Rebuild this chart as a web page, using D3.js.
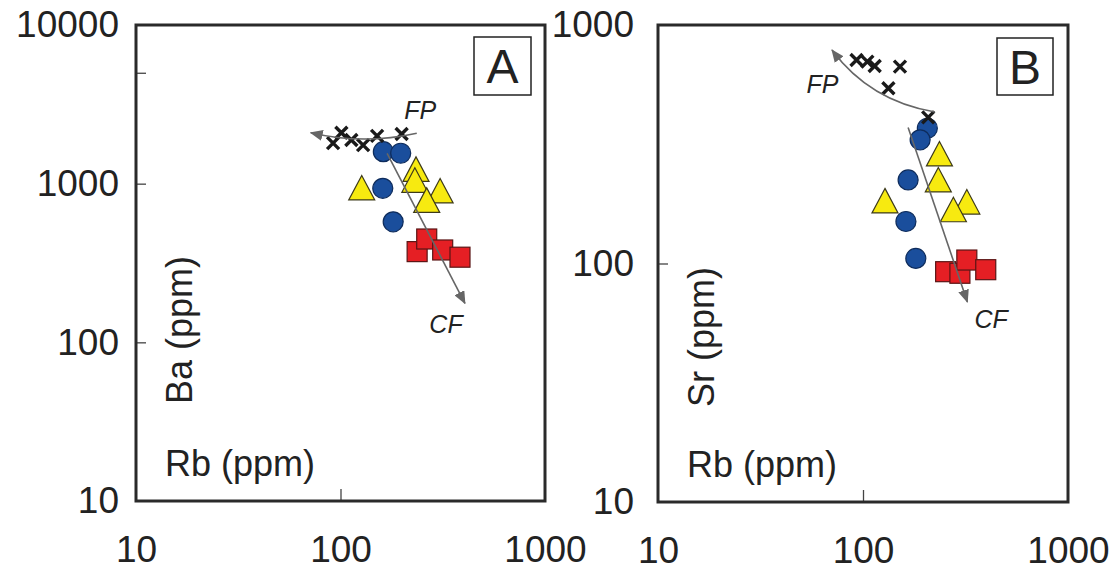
<!DOCTYPE html>
<html>
<head>
<meta charset="utf-8">
<script src="https://cdn.jsdelivr.net/npm/d3@7"></script>
<style>
  html, body { margin: 0; padding: 0; background: #fff; }
  svg { display: block; }
  text { font-family: "Liberation Sans", Arial, Helvetica, sans-serif; fill: #222; }
</style>
</head>
<body>
<svg id="chart" width="1115" height="570"></svg>
<script>
// ---- tick values ----
const xTicks = [10, 100, 1000];
const yTicksA = [10, 100, 1000, 10000];
const yTicksB = [10, 100, 1000];

// ---- panel A: Ba vs Rb ----
const crossRbA  = [92, 101, 113, 129, 151, 199];
const crossBaA  = [1800, 2095, 1885, 1750, 2000, 2055];
const circleRbA = [162, 197, 161, 181];
const circleBaA = [1590, 1555, 935, 575];
const triRbA    = [234, 231, 127, 307, 264];
const triBaA    = [1230, 1050, 940, 900, 785];
const sqRbA     = [237, 264, 316, 384];
const sqBaA     = [373, 448, 382, 344];

// ---- panel B: Sr vs Rb ----
const crossRbB  = [93, 105, 114, 151.5, 133, 208];
const crossSrB  = [713, 702, 673, 669, 543, 410];
const circleRbB = [206, 190, 166, 162, 181];
const circleSrB = [369, 330, 224, 150, 105];
const triRbB    = [236, 233, 128, 321, 276];
const triSrB    = [288, 224, 183, 181, 168];
const sqRbB     = [253, 297, 321, 397];
const sqSrB     = [92.4, 91, 103.4, 94.2];

// ---- trend arrows (start, [control], tip) in data units ----
const fpArrowA = [[236, 2080], [129, 1750], [71.5, 2095]];
const cfArrowA = [[169, 1554], [406, 176]];
const fpArrowB = [[224.5, 432], [108, 480], [70.6, 786]];
const cfArrowB = [[166, 372], [323, 69]];

// ---- trend labels (anchor in data units) ----
const fpLabelA = [205, 2540];
const cfLabelA = [272, 114.5];
const fpLabelB = [53, 520];
const cfLabelB = [350, 53.8];

const svg = d3.select("#chart");
const zip = (a, b) => a.map((v, i) => [v, b[i]]);

const panels = [
  {
    id: "A", left: 136, right: 545, top: 25, bottom: 501,
    yDomain: [10, 10000], yTicks: yTicksA, yInner: [1000, 100, 5000],
    yTitle: "Ba (ppm)", yTitleMid: 330, labelPad: 17,
    crosses: zip(crossRbA, crossBaA), circles: zip(circleRbA, circleBaA),
    tris: zip(triRbA, triBaA), squares: zip(sqRbA, sqBaA),
    fp: fpArrowA, cf: cfArrowA, fpLabel: fpLabelA, cfLabel: cfLabelA,
    box: [474, 37, 57, 58]
  },
  {
    id: "B", left: 658, right: 1068, top: 25, bottom: 502,
    yDomain: [10, 1000], yTicks: yTicksB, yInner: [100],
    yTitle: "Sr (ppm)", yTitleMid: 337, labelPad: 24,
    crosses: zip(crossRbB, crossSrB), circles: zip(circleRbB, circleSrB),
    tris: zip(triRbB, triSrB), squares: zip(sqRbB, sqSrB),
    fp: fpArrowB, cf: cfArrowB, fpLabel: fpLabelB, cfLabel: cfLabelB,
    box: [997, 38, 56, 57]
  }
];

const defs = svg.append("defs");
defs.append("marker")
  .attr("id", "arrowHead")
  .attr("viewBox", "0 0 13 11")
  .attr("refX", 12).attr("refY", 5.5)
  .attr("markerWidth", 13).attr("markerHeight", 11)
  .attr("markerUnits", "userSpaceOnUse")
  .attr("orient", "auto")
  .append("path")
  .attr("d", "M0,0 L13,5.5 L0,11 Z")
  .attr("fill", "#666");

panels.forEach(p => {
  const x = d3.scaleLog().domain([10, 1000]).range([p.left, p.right]);
  const y = d3.scaleLog().domain(p.yDomain).range([p.bottom, p.top]);
  const g = svg.append("g").attr("class", "panel-" + p.id);

  // inner ticks on the left edge
  const yInnerAxis = d3.axisRight(y).tickValues(p.yInner).tickSize(10).tickFormat("");
  g.append("g").attr("transform", `translate(${p.left},0)`).call(yInnerAxis)
    .call(s => s.select(".domain").remove())
    .call(s => s.selectAll("line").attr("stroke", "#444").attr("stroke-width", 1.3));

  // inner tick on the bottom edge
  const xInnerAxis = d3.axisTop(x).tickValues([100]).tickSize(12).tickFormat("");
  g.append("g").attr("transform", `translate(0,${p.bottom})`).call(xInnerAxis)
    .call(s => s.select(".domain").remove())
    .call(s => s.selectAll("line").attr("stroke", "#444").attr("stroke-width", 1.3));

  // y tick labels
  const yLabelAxis = d3.axisLeft(y).tickValues(p.yTicks).tickSize(0).tickPadding(p.labelPad)
    .tickFormat(d3.format("d"));
  g.append("g").attr("transform", `translate(${p.left},0)`).call(yLabelAxis)
    .call(s => s.select(".domain").remove())
    .call(s => s.selectAll("text").attr("font-size", 37)
      .attr("font-family", "Liberation Sans, Arial, sans-serif").attr("fill", "#222"));

  // x tick labels
  const xLabelAxis = d3.axisBottom(x).tickValues(xTicks).tickSize(0).tickPadding(0)
    .tickFormat(d3.format("d"));
  g.append("g").attr("transform", `translate(0,${p.bottom})`).call(xLabelAxis)
    .call(s => s.select(".domain").remove())
    .call(s => s.selectAll("text").attr("font-size", 37).attr("dy", null)
      .attr("y", 61).attr("font-family", "Liberation Sans, Arial, sans-serif").attr("fill", "#222"));

  // frame
  g.append("rect")
    .attr("x", p.left).attr("y", p.top)
    .attr("width", p.right - p.left).attr("height", p.bottom - p.top)
    .attr("fill", "none").attr("stroke", "#2a2a2a").attr("stroke-width", 3);

  // axis titles inside the frame
  g.append("text")
    .attr("x", p.left + 29).attr("y", p.bottom - 25)
    .attr("font-size", 36).text("Rb (ppm)");
  g.append("text")
    .attr("transform", `translate(${p.left + 56},${p.yTitleMid}) rotate(-90)`)
    .attr("text-anchor", "middle")
    .attr("font-size", 36).text(p.yTitle);

  // panel letter box
  g.append("rect")
    .attr("x", p.box[0]).attr("y", p.box[1]).attr("width", p.box[2]).attr("height", p.box[3])
    .attr("fill", "#fff").attr("stroke", "#222").attr("stroke-width", 1.5);
  g.append("text")
    .attr("x", p.box[0] + p.box[2] / 2).attr("y", p.box[1] + p.box[3] / 2 + 17)
    .attr("text-anchor", "middle").attr("font-size", 48).attr("fill", "#111")
    .text(p.id);

  // circles
  g.selectAll("circle.pt").data(p.circles).join("circle")
    .attr("class", "pt")
    .attr("cx", d => x(d[0])).attr("cy", d => y(d[1])).attr("r", 10)
    .attr("fill", "#1a4e9c").attr("stroke", "#0e2c5c").attr("stroke-width", 1.2);

  // triangles
  const tri = "M0,-12.5 L13,12 L-13,12 Z";
  g.selectAll("path.tri").data(p.tris).join("path")
    .attr("class", "tri")
    .attr("d", tri)
    .attr("transform", d => `translate(${x(d[0])},${y(d[1])})`)
    .attr("fill", "#f7ea10").attr("stroke", "#3d3a1a").attr("stroke-width", 1.2);

  // squares
  g.selectAll("rect.sq").data(p.squares).join("rect")
    .attr("class", "sq")
    .attr("x", d => x(d[0]) - 10).attr("y", d => y(d[1]) - 10)
    .attr("width", 20).attr("height", 20)
    .attr("fill", "#e51f24").attr("stroke", "#5a1515").attr("stroke-width", 1.2);

  // crosses
  const cross = "M-6,-6 L6,6 M-6,6 L6,-6";
  g.selectAll("path.cross").data(p.crosses).join("path")
    .attr("class", "cross")
    .attr("d", cross)
    .attr("transform", d => `translate(${x(d[0])},${y(d[1])})`)
    .attr("fill", "none").attr("stroke", "#1a1a1a").attr("stroke-width", 3.4)
    .attr("stroke-linecap", "butt");

  // trend arrows
  const pt = d => [x(d[0]), y(d[1])];
  const [f0, fc, f1] = p.fp.map(pt);
  g.append("path")
    .attr("d", `M${f0[0]},${f0[1]} Q${fc[0]},${fc[1]} ${f1[0]},${f1[1]}`)
    .attr("fill", "none").attr("stroke", "#666").attr("stroke-width", 1.6)
    .attr("marker-end", "url(#arrowHead)");
  const [c0, c1] = p.cf.map(pt);
  g.append("path")
    .attr("d", `M${c0[0]},${c0[1]} L${c1[0]},${c1[1]}`)
    .attr("fill", "none").attr("stroke", "#666").attr("stroke-width", 1.6)
    .attr("marker-end", "url(#arrowHead)");

  // trend labels
  g.append("text").attr("x", x(p.fpLabel[0])).attr("y", y(p.fpLabel[1]))
    .attr("font-size", 25).attr("font-style", "italic").text("FP");
  g.append("text").attr("x", x(p.cfLabel[0])).attr("y", y(p.cfLabel[1]))
    .attr("font-size", 25).attr("font-style", "italic").text("CF");
});
</script>
</body>
</html>
